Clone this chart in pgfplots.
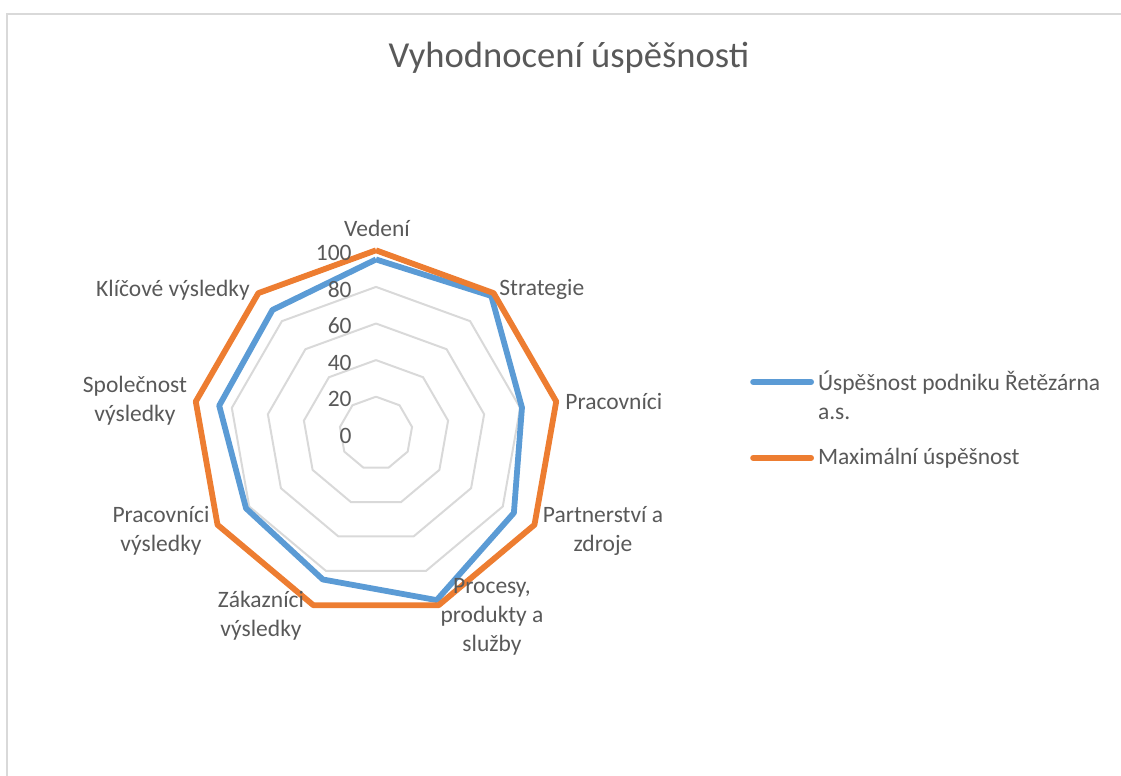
\documentclass[border=0pt]{standalone}
\usepackage{pgfplots}
\pgfplotsset{compat=1.18}
\usepgfplotslibrary{polar}
\usepackage{fontspec}
\setmainfont{Carlito}
\definecolor{cblue}{HTML}{5B9BD5}
\definecolor{corange}{HTML}{ED7D31}
\definecolor{cgrid}{HTML}{D9D9D9}
\definecolor{ctext}{HTML}{595959}
\newcommand{\lbl}{\fontsize{11.75}{14.5}\selectfont}
\begin{document}
\begin{tikzpicture}[x=0.5pt,y=-0.5pt]
\path[use as bounding box] (0,0) rectangle (1121,776);
\draw[cgrid,line width=1pt] (6.5,13.5) rectangle (1130,790);
\node[text=ctext,font=\fontsize{18.3}{22}\selectfont] at (569,58) {Vyhodnocení úspěšnosti};
\begin{polaraxis}[
  at={(188pt,-216.65pt)}, anchor=center,
  width=183pt, height=183pt, scale only axis,
  xmin=0, xmax=360, ymin=0, ymax=100,
  hide axis, clip=false,
  legend style={at={(axis description cs:1.505,0.694)}, anchor=north west,
    draw=none, fill=none, font=\lbl, text=ctext,
    row sep=23.5pt},
  legend cell align=left,
  legend image code/.code={\draw[#1,line cap=round] (0pt,0pt) -- (29pt,0pt);},
]
\addplot[cgrid,line width=1pt,forget plot] coordinates {(90,20)(50,20)(10,20)(-30,20)(-70,20)(-110,20)(-150,20)(-190,20)(-230,20)(-270,20)};
\addplot[cgrid,line width=1pt,forget plot] coordinates {(90,40)(50,40)(10,40)(-30,40)(-70,40)(-110,40)(-150,40)(-190,40)(-230,40)(-270,40)};
\addplot[cgrid,line width=1pt,forget plot] coordinates {(90,60)(50,60)(10,60)(-30,60)(-70,60)(-110,60)(-150,60)(-190,60)(-230,60)(-270,60)};
\addplot[cgrid,line width=1pt,forget plot] coordinates {(90,80)(50,80)(10,80)(-30,80)(-70,80)(-110,80)(-150,80)(-190,80)(-230,80)(-270,80)};
\addplot[cgrid,line width=1pt,forget plot] coordinates {(90,100)(50,100)(10,100)(-30,100)(-70,100)(-110,100)(-150,100)(-190,100)(-230,100)(-270,100)};
\addplot[cblue,line width=2.9pt,line join=round] coordinates {(90,95)(50,98)(10,81)(-30,87)(-70,97)(-110,85)(-150,82)(-190,87)(-230,88)(-270,95)};
\addlegendentry{\rlap{\raisebox{-14.5pt}[0pt][0pt]{a.s.}}Úspěšnost podniku Řetězárna}
\addplot[corange,line width=2.9pt,line join=round] coordinates {(90,100)(50,100)(10,100)(-30,100)(-70,100)(-110,100)(-150,100)(-190,100)(-230,100)(-270,100)};
\addlegendentry{Maximální úspěšnost}
\end{polaraxis}
\begin{scope}[font=\lbl,text=ctext]
\begin{scope}[every node/.style={anchor=east,inner sep=0pt}]
\node at (352,252.5) {100};
\node at (352,289.2) {80};
\node at (352,325.9) {60};
\node at (352,362.6) {40};
\node at (352,399.3) {20};
\node at (352,436) {0};
\end{scope}
\node at (377,228) {Vedení};
\node[anchor=west,inner sep=0pt] at (499,289) {Strategie};
\node[anchor=west,inner sep=0pt] at (565,401) {Pracovníci};
\node[align=center] at (603,531) {Partnerství a\\zdroje};
\node[align=center] at (492,617) {Procesy,\\produkty a\\služby};
\node[align=center] at (261,616) {Zákazníci\\výsledky};
\node[align=center] at (161,531) {Pracovníci\\výsledky};
\node[align=center] at (135,401) {Společnost\\výsledky};
\node at (173,290) {Klíčové výsledky};
\end{scope}
\end{tikzpicture}
\end{document}
